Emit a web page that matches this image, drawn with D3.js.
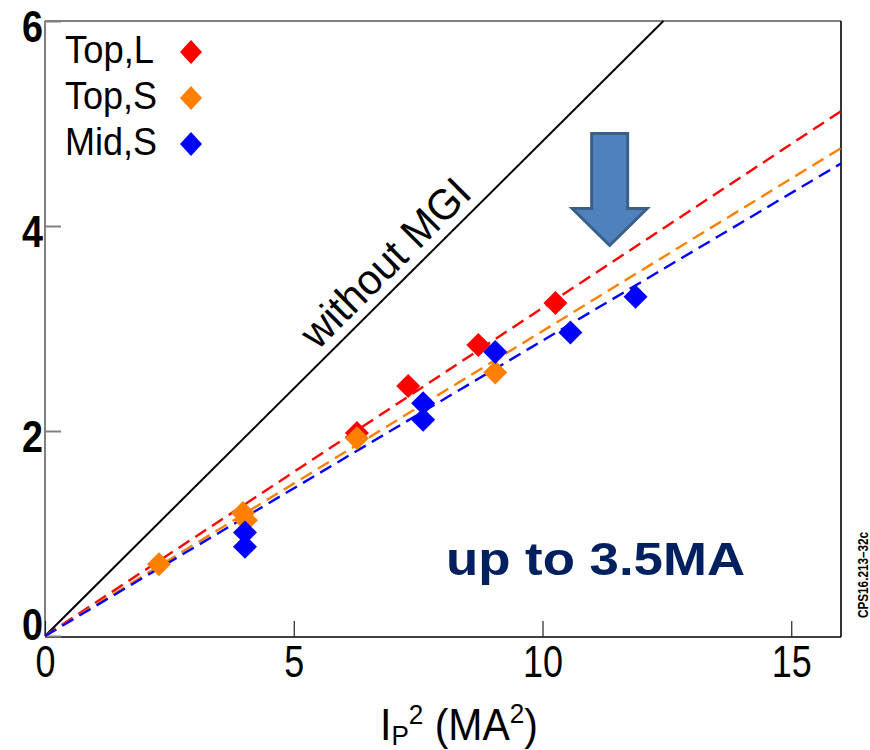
<!DOCTYPE html>
<html>
<head>
<meta charset="utf-8">
<script src="https://cdn.jsdelivr.net/npm/d3@7"></script>
<style>
  html, body { margin: 0; padding: 0; background: #fff; }
  svg { display: block; font-family: "Liberation Sans", Arial, sans-serif; }
</style>
</head>
<body>
<svg id="chart" width="870" height="750"></svg>
<script>
// Axis ticks
const xTicks = [0, 5, 10, 15];
const yTicks = [0, 2, 4, 6];

// Measured points, one pair of arrays per configuration
const seriesNames = ["Top,L", "Top,S", "Mid,S"];
const seriesColors = ["#ff0000", "#ff8000", "#0000ff"];
const topLX = [6.27, 7.30, 8.71, 10.26];
const topLY = [1.98, 2.44, 2.84, 3.25];
const topSX = [2.29, 3.98, 4.04, 6.27, 9.05];
const topSY = [0.70, 1.20, 1.13, 1.93, 2.57];
const midSX = [4.02, 4.02, 7.60, 7.60, 9.05, 10.56, 11.87];
const midSY = [1.01, 0.87, 2.27, 2.11, 2.77, 2.96, 3.31];

// Fitted trends (dashed) through the origin
const fitX = [0, 16];
const fitTopL = [0, 5.12];
const fitTopS = [0, 4.76];
const fitMidS = [0, 4.61];

// Reference line without MGI
const noMgiX = [0, 12.43];
const noMgiY = [0, 6];

const svg = d3.select("#chart");
const x = d3.scaleLinear().domain([0, 16]).range([45, 841]);
const y = d3.scaleLinear().domain([0, 6]).range([636, 21]);

const series = [
  { name: seriesNames[0], color: seriesColors[0], xs: topLX, ys: topLY, fit: fitTopL },
  { name: seriesNames[1], color: seriesColors[1], xs: topSX, ys: topSY, fit: fitTopS },
  { name: seriesNames[2], color: seriesColors[2], xs: midSX, ys: midSY, fit: fitMidS }
];

// Frame: grey left/top, black right/bottom
const frame = svg.append("g");
frame.append("line").attr("x1", x(0)).attr("x2", x(0)).attr("y1", y(6)).attr("y2", y(0))
  .attr("stroke", "#808080").attr("stroke-width", 2);
frame.append("line").attr("x1", x(0)).attr("x2", x(16)).attr("y1", y(6)).attr("y2", y(6))
  .attr("stroke", "#808080").attr("stroke-width", 2);
frame.append("line").attr("x1", x(16)).attr("x2", x(16)).attr("y1", y(6)).attr("y2", y(0) + 1)
  .attr("stroke", "#000").attr("stroke-width", 1.6);
frame.append("line").attr("x1", x(0)).attr("x2", x(16)).attr("y1", y(0) + 1).attr("y2", y(0) + 1)
  .attr("stroke", "#000").attr("stroke-width", 1.6);

// X axis with inward ticks
const xAxis = svg.append("g").attr("transform", `translate(0,${y(0) + 1})`)
  .call(d3.axisBottom(x).tickValues(xTicks).tickSize(-16).tickFormat(d3.format("d")));
xAxis.select(".domain").remove();
xAxis.selectAll(".tick line").attr("stroke", "#222").attr("stroke-width", 1.2);
xAxis.selectAll(".tick text")
  .attr("y", 40).attr("dy", 0)
  .attr("font-family", "Liberation Sans, Arial, sans-serif")
  .attr("font-size", 44).attr("fill", "#000")
  .attr("textLength", d => String(d).length * 20)
  .attr("lengthAdjust", "spacingAndGlyphs");

// Y axis with inward ticks
const yAxis = svg.append("g").attr("transform", `translate(${x(0)},0)`)
  .call(d3.axisLeft(y).tickValues(yTicks).tickSize(-16).tickFormat(d3.format("d")));
yAxis.select(".domain").remove();
yAxis.selectAll(".tick line").attr("stroke", "#808080").attr("stroke-width", 2);
yAxis.selectAll(".tick text")
  .attr("x", -2).attr("dy", 0)
  .attr("y", d => Math.min(20, 639 - y(d)))
  .attr("font-family", "Liberation Sans, Arial, sans-serif")
  .attr("font-weight", "bold")
  .attr("font-size", 44).attr("fill", "#000")
  .attr("textLength", d => String(d).length * 21)
  .attr("lengthAdjust", "spacingAndGlyphs");

// Helper: text squeezed/stretched horizontally to a given width
function fittedText(parent, px, py, anchor, width, build) {
  const g = parent.append("g");
  const t = g.append("text").attr("text-anchor", anchor).style("white-space", "pre");
  build(t);
  const w = t.node().getComputedTextLength();
  g.attr("transform", `translate(${px},${py}) scale(${width / w},1)`);
  return t;
}

// X axis title: I_P^2 (MA^2)
fittedText(svg, 459, 740, "middle", 158, t => {
  t.attr("font-size", 44).attr("fill", "#000");
  t.append("tspan").text("I");
  t.append("tspan").attr("font-size", 28).attr("dy", 5).text("P");
  t.append("tspan").attr("font-size", 28).attr("dy", -21).text("2");
  t.append("tspan").attr("dy", 16).text(" (MA");
  t.append("tspan").attr("font-size", 28).attr("dy", -17).text("2");
  t.append("tspan").attr("dy", 17).text(")");
});

// Line without MGI
const line = d3.line().x(d => x(d[0])).y(d => y(d[1]));
svg.append("path")
  .attr("d", line(d3.zip(noMgiX, noMgiY)))
  .attr("fill", "none").attr("stroke", "#000").attr("stroke-width", 2);

// Its label, laid along the line
{
  const p0 = [x(noMgiX[0]), y(noMgiY[0])];
  const p1 = [x(noMgiX[1]), y(noMgiY[1])];
  const ang = Math.atan2(p1[1] - p0[1], p1[0] - p0[0]) * 180 / Math.PI;
  const xm = 7.19;
  const ym = noMgiY[0] + (noMgiY[1] - noMgiY[0]) * (xm - noMgiX[0]) / (noMgiX[1] - noMgiX[0]);
  svg.append("text")
    .attr("transform", `translate(${x(xm)},${y(ym)}) rotate(${ang})`)
    .attr("x", 0).attr("y", -10)
    .attr("text-anchor", "middle")
    .attr("font-size", 43).attr("fill", "#000")
    .attr("textLength", 220).attr("lengthAdjust", "spacingAndGlyphs")
    .text("without MGI");
}

// Dashed trends
series.forEach(s => {
  svg.append("path")
    .attr("d", line(d3.zip(fitX, s.fit)))
    .attr("fill", "none").attr("stroke", s.color)
    .attr("stroke-width", 2.4).attr("stroke-dasharray", "13,7");
});

// Diamond markers
const diamond = (hw, hh) => `M0,${-hh}L${hw},0L0,${hh}L${-hw},0Z`;
series.forEach(s => {
  svg.append("g").selectAll("path")
    .data(d3.zip(s.xs, s.ys))
    .join("path")
    .attr("d", diamond(12, 12))
    .attr("transform", d => `translate(${x(d[0])},${y(d[1])})`)
    .attr("fill", s.color);
});

// Legend
const legend = svg.append("g");
series.forEach((s, i) => {
  const by = 63 + i * 46;
  legend.append("text")
    .attr("x", 65).attr("y", by)
    .attr("font-size", 39).attr("fill", "#000")
    .attr("textLength", i === 0 ? 89 : 92).attr("lengthAdjust", "spacingAndGlyphs")
    .text(s.name);
  legend.append("path")
    .attr("d", diamond(11, 12))
    .attr("transform", `translate(191,${by - 11})`)
    .attr("fill", s.color);
});

// Block arrow pointing down at the trend lines
{
  const tx = x(11.35), ty = y(3.81);
  const hw = 18, headW = 37.5, shaftTop = 112, neck = 37;
  const pts = [
    [tx - hw, ty - shaftTop], [tx + hw, ty - shaftTop], [tx + hw, ty - neck],
    [tx + headW, ty - neck], [tx, ty], [tx - headW, ty - neck], [tx - hw, ty - neck]
  ];
  svg.append("path")
    .attr("d", "M" + pts.map(p => p.join(",")).join("L") + "Z")
    .attr("fill", "#4f81bd").attr("stroke", "#3a5f8b")
    .attr("stroke-width", 3).attr("stroke-linejoin", "miter");
}

// Current range note
svg.append("text")
  .attr("x", 446).attr("y", 575)
  .attr("font-size", 46).attr("font-weight", "bold").attr("fill", "#002060")
  .attr("textLength", 299).attr("lengthAdjust", "spacingAndGlyphs")
  .text("up to 3.5MA");

// Figure id along the right edge
svg.append("text")
  .attr("transform", "translate(868,618) rotate(-90)")
  .attr("font-size", 15).attr("font-weight", "bold").attr("fill", "#000")
  .attr("textLength", 86).attr("lengthAdjust", "spacingAndGlyphs")
  .text("CPS16.213\u201332c");
</script>
</body>
</html>
